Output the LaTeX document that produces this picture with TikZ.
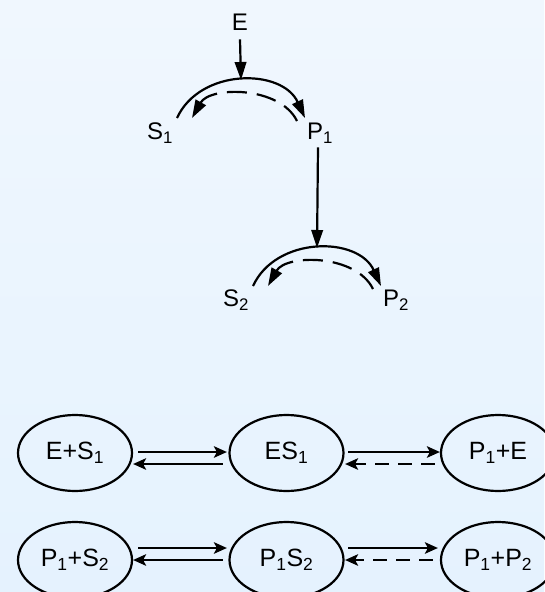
\documentclass[tikz,border=0pt]{standalone}
\usepackage{fontspec}
\setmainfont{Liberation Sans}
\usetikzlibrary{arrows.meta,shapes.geometric}
\definecolor{bgtop}{RGB}{240,247,254}
\definecolor{bgbot}{RGB}{229,242,254}
\begin{document}
\begin{tikzpicture}[x=1pt,y=-1pt,
  lbl/.style={font=\fontsize{24}{29}\selectfont, inner sep=0pt},
  state/.style={draw, ellipse, line width=2.2pt, minimum width=114pt, minimum height=76pt, inner sep=0pt, font=\fontsize{25}{30}\selectfont},
  conn/.style={line width=2.2pt, -{Triangle[length=18pt,width=11.5pt]}},
  conns/.style={line width=2.2pt, -{Stealth[length=13pt,width=11.5pt,inset=3pt]}},
  dsharc/.style={conn, dash pattern=on 20pt off 10pt},
  dshline/.style={conns, dash pattern=on 14pt off 9pt}]
\fill[top color=bgtop, bottom color=bgbot] (0,0) rectangle (544,592);
\useasboundingbox (0,0) rectangle (544,592);
% top mechanism
\node[lbl] (E) at (240,22) {E};
\node[lbl] (S1) at (160,133) {S\textsubscript{1}};
\node[lbl] (P1) at (320,133) {P\textsubscript{1}};
\node[lbl] (S2) at (236,300) {S\textsubscript{2}};
\node[lbl] (P2) at (396,300) {P\textsubscript{2}};
\coordinate (a1) at (241,80);
\coordinate (a1l) at (177,118);
\coordinate (a1r) at (305,118);
\coordinate (d1r) at (297,121);
\coordinate (d1l) at (192,118);
\coordinate (a2) at (317,248);
\coordinate (a2l) at (253,286);
\coordinate (a2r) at (381,286);
\coordinate (d2r) at (373,289);
\coordinate (d2l) at (268,286);
\draw[conn] ([yshift=-9pt]E.south) -- (a1);
\draw[conn] (a1l) .. controls (200,68) and (282,68) .. (a1r);
\draw[dsharc] (d1r) .. controls (280,86) and (210,86) .. (d1l);
\draw[conn] ([xshift=-2pt,yshift=-4pt]P1.south) -- (a2);
\draw[conn] (a2l) .. controls (276,236) and (358,236) .. (a2r);
\draw[dsharc] (d2r) .. controls (356,254) and (286,254) .. (d2l);
% bottom states
\node[state] (es1) at (75,453) {E+S\textsubscript{1}};
\node[state] (es) at (286.5,453) {ES\textsubscript{1}};
\node[state] (p1e) at (498,453) {P\textsubscript{1}+E};
\node[state] (p1s2) at (75,560) {P\textsubscript{1}+S\textsubscript{2}};
\node[state] (ps) at (286.5,560) {P\textsubscript{1}S\textsubscript{2}};
\node[state] (p1p2) at (498,560) {P\textsubscript{1}+P\textsubscript{2}};
% row 1 arrows
\draw[conns] ([xshift=5pt,yshift=1pt]es1.east) -- ([xshift=-1.5pt,yshift=1pt]es.west);
\draw[conns] ([xshift=-5.5pt,yshift=-11pt]es.west) -- ([yshift=-11pt]es1.east);
\draw[conns] ([xshift=3.5pt,yshift=1pt]es.east) -- ([yshift=1pt]p1e.west);
\draw[dshline] ([xshift=-5pt,yshift=-11pt]p1e.west) -- ([xshift=0.5pt,yshift=-11pt]es.east);
% row 2 arrows
\draw[conns] ([xshift=5pt,yshift=12pt]p1s2.east) -- ([xshift=-1.5pt,yshift=12pt]ps.west);
\draw[conns] ([xshift=-5.5pt]ps.west) -- (p1s2.east);
\draw[conns] ([xshift=3.5pt,yshift=12pt]ps.east) -- ([xshift=-2pt,yshift=12pt]p1p2.west);
\draw[dshline] ([xshift=-7pt]p1p2.west) -- ([xshift=0.5pt]ps.east);
\end{tikzpicture}
\end{document}
